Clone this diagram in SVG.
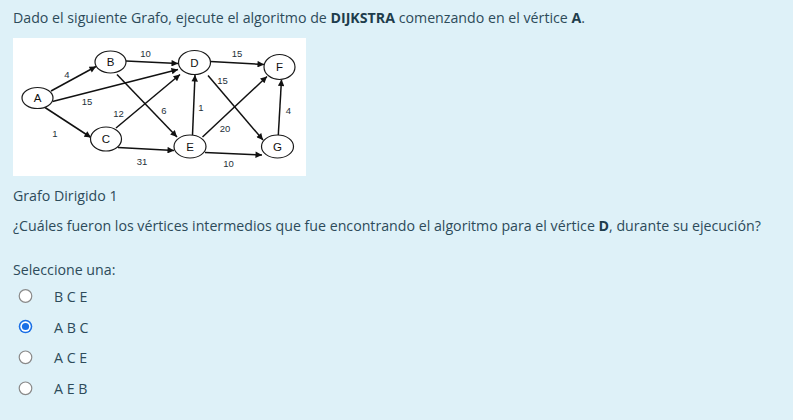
<svg xmlns="http://www.w3.org/2000/svg" width="793" height="420" viewBox="0 0 793 420">
<defs>
<marker id="arr" viewBox="0 0 10 10" refX="10" refY="5" markerWidth="8" markerHeight="6.5" markerUnits="userSpaceOnUse" orient="auto">
<path d="M0,0 L10,5 L0,10 z" fill="#111"/>
</marker>
</defs>
<style>
.txt{font-family:"Open Sans","Liberation Sans",sans-serif;font-size:14.2px;fill:#2d4b5a}
.b{font-weight:700;fill:#1e3d4c}
.node ellipse{fill:#fff;stroke:#1a1a1a;stroke-width:1.2}
.node text{font-family:"Liberation Sans",Arial,sans-serif;font-size:11.5px;fill:#111;text-anchor:middle}
.edges line{stroke:#111;stroke-width:1.5;marker-end:url(#arr)}
.lbl{font-family:"Liberation Sans",Arial,sans-serif;font-size:9.5px;fill:#26303a;text-anchor:middle}
.radio{fill:#fff;stroke:#8a8a8a;stroke-width:1.2}
</style>
<rect width="793" height="420" fill="#def1f8"/>
<text class="txt" x="13" y="23">Dado el siguiente Grafo, ejecute el algoritmo de <tspan class="b">DIJKSTRA</tspan> comenzando en el vértice <tspan class="b">A</tspan>.</text>
<rect x="13" y="38" width="293" height="138" fill="#fff"/>
<g class="edges">
<line x1="51" y1="91" x2="96" y2="66.5"/>
<line x1="52.5" y1="101.5" x2="178" y2="69.5"/>
<line x1="45" y1="107.5" x2="91" y2="137.5"/>
<line x1="126" y1="61" x2="178" y2="63.5"/>
<line x1="117" y1="74.5" x2="177" y2="137"/>
<line x1="116" y1="128" x2="180" y2="74.5"/>
<line x1="118" y1="147.5" x2="174" y2="150.5"/>
<line x1="210.5" y1="61.5" x2="264" y2="64.5"/>
<line x1="208" y1="75.5" x2="263" y2="140"/>
<line x1="192.5" y1="135" x2="195" y2="75"/>
<line x1="202.5" y1="137" x2="267" y2="76.5"/>
<line x1="205" y1="152.5" x2="262" y2="155"/>
<line x1="278.3" y1="135" x2="281.5" y2="79.5"/>
</g>
<g id="labels">
<text class="lbl" x="145.5" y="57">10</text>
<text class="lbl" x="237" y="56.5">15</text>
<text class="lbl" x="67" y="78">4</text>
<text class="lbl" x="87" y="105">15</text>
<text class="lbl" x="118.5" y="116.5">12</text>
<text class="lbl" x="55" y="136.5">1</text>
<text class="lbl" x="142" y="164.5">31</text>
<text class="lbl" x="164" y="113.5">6</text>
<text class="lbl" x="222.5" y="84">15</text>
<text class="lbl" x="201" y="111">1</text>
<text class="lbl" x="225" y="131.5">20</text>
<text class="lbl" x="228.5" y="166.5">10</text>
<text class="lbl" x="288.5" y="113.5">4</text>
</g>
<g id="node-A" class="node"><ellipse cx="37.5" cy="98" rx="15.5" ry="10.5"/><text x="37.5" y="102">A</text></g>
<g id="node-B" class="node"><ellipse cx="110.5" cy="62" rx="15.5" ry="11"/><text x="110.5" y="66">B</text></g>
<g id="node-C" class="node"><ellipse cx="106" cy="139" rx="15.5" ry="12"/><text x="106" y="143">C</text></g>
<g id="node-D" class="node"><ellipse cx="194.5" cy="62.5" rx="16" ry="12"/><text x="194.5" y="66.5">D</text></g>
<g id="node-E" class="node"><ellipse cx="190" cy="146.5" rx="16" ry="11.5"/><text x="190" y="150.5">E</text></g>
<g id="node-F" class="node"><ellipse cx="279.5" cy="67" rx="15.5" ry="12.5"/><text x="279.5" y="71">F</text></g>
<g id="node-G" class="node"><ellipse cx="277.5" cy="146.5" rx="16" ry="11.5"/><text x="277.5" y="150.5">G</text></g>
<text class="txt" x="13" y="201">Grafo Dirigido 1</text>
<text class="txt" x="13" y="231">¿Cuáles fueron los vértices intermedios que fue encontrando el algoritmo para el vértice <tspan class="b">D</tspan>, durante su ejecución?</text>
<text class="txt" x="13" y="275">Seleccione una:</text>
<g id="option-1"><circle class="radio" cx="25.5" cy="296" r="6.3"/><text class="txt" x="54" y="301.5">B C E</text></g>
<g id="option-2"><circle cx="25.5" cy="326.5" r="6.8" fill="#1a6fe6"/><circle cx="25.5" cy="326.5" r="5.2" fill="#fff"/><circle cx="25.5" cy="326.5" r="3.6" fill="#1a6fe6"/><text class="txt" x="54" y="332.5">A B C</text></g>
<g id="option-3"><circle class="radio" cx="25.5" cy="357.3" r="6.3"/><text class="txt" x="54" y="363">A C E</text></g>
<g id="option-4"><circle class="radio" cx="25.5" cy="388.3" r="6.3"/><text class="txt" x="54" y="394">A E B</text></g>
</svg>
